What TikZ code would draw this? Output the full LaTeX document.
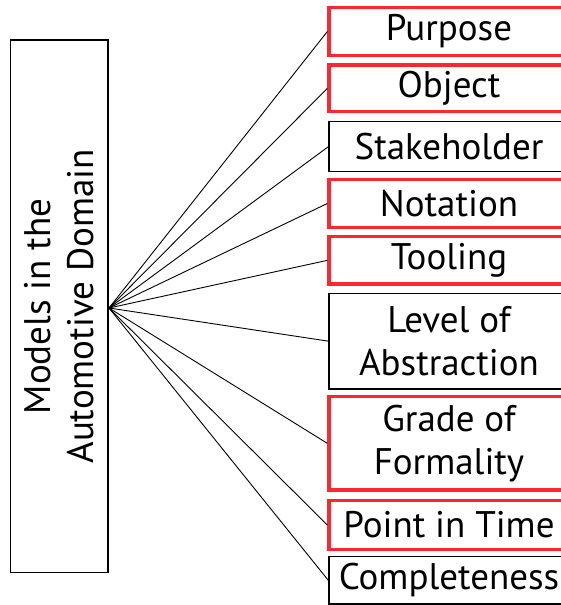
\documentclass[tikz,border=0pt]{standalone}
\usepackage{fontspec}
\setmainfont{PT Sans}
\definecolor{boxred}{RGB}{255,38,48}
\begin{document}
\begin{tikzpicture}[x=1pt,y=-1pt,
  item/.style={draw=black, line width=1.3pt, minimum width=240pt, inner sep=0pt,
    font=\fontsize{37}{43}\selectfont, align=center},
  reditem/.style={item, draw=boxred, line width=3.3pt},
  link/.style={line width=0.9pt}]
\useasboundingbox (0,0) rectangle (561,605);
\clip (0,0) rectangle (561,605);
\node[draw=black, line width=1.3pt, rotate=90, minimum width=532.7pt, minimum height=97.3pt,
  inner sep=0pt, font=\fontsize{37}{43}\selectfont, align=center] (main) at (59.35,306.35)
  {Models in the\\Automotive Domain};
\coordinate (hub) at (109,308);
\node[reditem, minimum height=47.6pt] (purpose) at (449,31.5) {Purpose};
\node[reditem, minimum height=46.7pt] (object) at (449,88.35) {Object};
\node[item, minimum height=50pt] (stake) at (449,146.7) {Stakeholder};
\node[reditem, minimum height=48.4pt] (notation) at (449,203.5) {Notation};
\node[reditem, minimum height=47.3pt] (tooling) at (449,260.35) {Tooling};
\node[item, minimum height=95.7pt] (level) at (449,341.15) {Level of\\Abstraction};
\node[reditem, minimum height=93.3pt] (grade) at (449,443.35) {Grade of\\Formality};
\node[reditem, minimum height=48.6pt] (point) at (449,525) {Point in Time};
\node[item, minimum height=47.3pt] (complete) at (449,580.35) {Completeness};
\foreach \n in {purpose,object,stake,notation,tooling,level,grade,point,complete}
  \draw[link] (hub) -- (\n.west);
\end{tikzpicture}
\end{document}
